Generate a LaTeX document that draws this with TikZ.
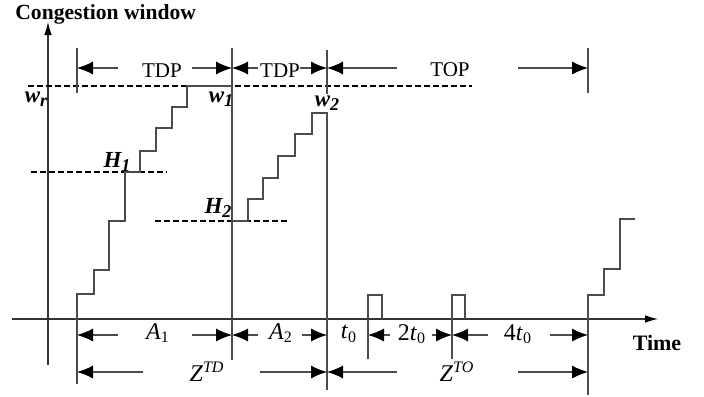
\documentclass[tikz,border=0pt]{standalone}
\usepackage{fontspec}
\setmainfont{Liberation Serif}
\usetikzlibrary{arrows.meta}
\tikzset{
  ln/.style={line width=0.55pt, black!70},
  axisln/.style={line width=0.55pt, black!80},
  dashln/.style={line width=1.1pt, dash pattern=on 3pt off 1.5pt, black},
  dimarr/.style={line width=0.55pt, black!70, -{Latex[length=8pt,width=6.5pt,black]}},
  axarr/.style={line width=0.55pt, black!80, -{Latex[length=6.5pt,width=3.8pt,black]}},
  txt/.style={font=\fontsize{10.5}{12}\selectfont, inner sep=0.5pt},
  mlbl/.style={font=\fontsize{12}{14}\selectfont, inner sep=0.5pt},
  blbl/.style={font=\fontsize{11.5}{13}\selectfont\bfseries\itshape, inner sep=0.5pt},
}
\newcommand{\bsub}[1]{\raisebox{-0.35ex}{\fontsize{9}{10}\selectfont #1}}
\begin{document}
\begin{tikzpicture}[x=0.5pt,y=-0.5pt]
\useasboundingbox[fill=white] (0,0) rectangle (704,396);

% title
\node[anchor=base west, inner sep=0pt, font=\fontsize{10.8}{13}\selectfont\bfseries] (title) at (15,19) {Congestion window};

% axes
\draw[axarr] (12,319) -- (658,319);
\draw[axarr] (48,365) -- (48,22);
\node[font=\fontsize{11}{13}\selectfont\bfseries, inner sep=0pt] (time) at (657,343) {Time};

% dashed levels
\draw[dashln] (28,86) -- (472,86);
\draw[dashln] (31,172) -- (167,172);
\draw[dashln] (155,221) -- (290,221);

% vertical marker lines
\draw[ln] (77,48) -- (77,93);
\draw[ln] (588,48) -- (588,93);
\draw[ln] (232,48) -- (232,360);
\draw[ln] (327,50) -- (327,390);

% staircase 1
\draw[ln] (77,384) -- (77,294) -- (94,294) -- (94,270) -- (109,270) -- (109,221)
  -- (125,221) -- (125,172) -- (140,172) -- (140,151) -- (156,151) -- (156,128)
  -- (172,128) -- (172,107) -- (187,107) -- (187,86) -- (232,86);

% staircase 2
\draw[ln] (232,221) -- (248,221) -- (248,199) -- (263,199) -- (263,178) -- (278,178)
  -- (278,156) -- (295,156) -- (295,134) -- (312,134) -- (312,113) -- (327,113);

% pulses
\draw[ln] (368,359) -- (368,295) -- (382,295) -- (382,319);
\draw[ln] (452,359) -- (452,295) -- (465,295) -- (465,319);

% final staircase
\draw[ln] (588,395) -- (588,295) -- (604,295) -- (604,269) -- (620,269) -- (620,219) -- (635,219);

% level labels
\node[blbl] (wr) at (36,99) {w\bsub{r}};
\node[blbl] (w1) at (221,99) {w\bsub{1}};
\node[blbl, fill=white, inner sep=1pt] (w2) at (327,103) {w\bsub{2}};
\node[blbl] (h1) at (117,162) {H\bsub{1}};
\node[blbl] (h2) at (218,208) {H\bsub{2}};

% top dimension row
\node[txt] (tdp1) at (162,71) {TDP};
\node[txt] (tdp2) at (280,71) {TDP};
\node[txt] (top) at (450,70) {TOP};
\draw[dimarr] (118,68) -- (77,68);
\draw[dimarr] (192,68) -- (232,68);
\draw[dimarr] (258,68) -- (232,68);
\draw[dimarr] (300,68) -- (327,68);
\draw[dimarr] (397,68) -- (327,68);
\draw[dimarr] (518,68) -- (588,68);

% lower dimension row 1
\node[mlbl] (a1) at (158,333) {\textit{A}\textsubscript{1}};
\node[mlbl] (a2) at (281,333) {\textit{A}\textsubscript{2}};
\node[mlbl] (t0) at (349,334) {\textit{t}\textsubscript{0}};
\node[mlbl] (t2) at (412,334) {2\textit{t}\textsubscript{0}};
\node[mlbl] (t4) at (518,334) {4\textit{t}\textsubscript{0}};
\draw[dimarr] (118,335) -- (77,335);
\draw[dimarr] (192,335) -- (232,335);
\draw[dimarr] (258,335) -- (232,335);
\draw[dimarr] (302,335) -- (327,335);
\draw[dimarr] (390,335) -- (368,335);
\draw[dimarr] (432,335) -- (452,335);
\draw[dimarr] (488,335) -- (452,335);
\draw[dimarr] (550,335) -- (588,335);

% lower dimension row 2
\node[mlbl] (ztd) at (207,372) {\textit{Z}\textsuperscript{\textit{TD}}};
\node[mlbl] (zto) at (457,372) {\textit{Z}\textsuperscript{\textit{TO}}};
\draw[dimarr] (143,372) -- (77,372);
\draw[dimarr] (260,372) -- (327,372);
\draw[dimarr] (397,372) -- (327,372);
\draw[dimarr] (518,372) -- (588,372);
\end{tikzpicture}
\end{document}
